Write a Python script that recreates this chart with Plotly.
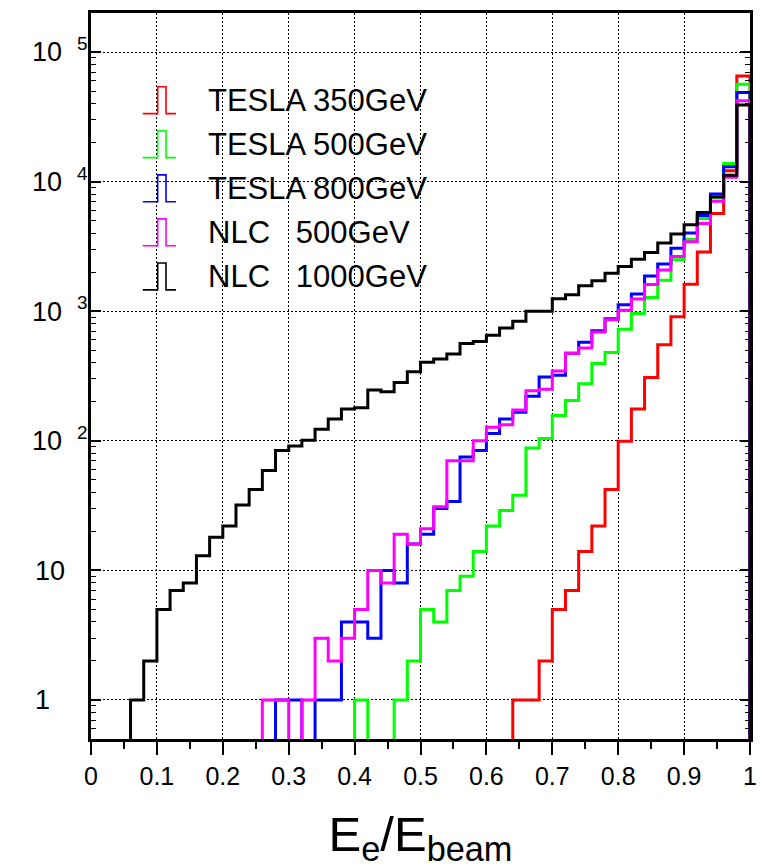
import numpy as np
import plotly.graph_objects as go

# Histogram binning: 50 bins of width 0.02 on E_e/E_beam in [0, 1]
bin_edges = np.linspace(0.0, 1.0, 51)

# Entries per bin (index 0 -> bin [0.00, 0.02), ..., index 49 -> [0.98, 1.00])
tesla_350 = [0] * 32 + [1, 1, 2, 5, 7, 14, 22, 42, 99, 176, 308, 552, 905,
                        1613, 2858, 5670, 12150, 65300]
tesla_500 = [0] * 20 + [1, 0, 0, 1, 2, 5, 4, 7, 9, 14, 22, 29, 38, 88, 104,
                        157, 205, 276, 395, 480, 725, 960, 1275, 1730, 2490,
                        3580, 5200, 7500, 13800, 56400]
tesla_800 = [0] * 14 + [1, 1, 0, 1, 1, 4, 4, 3, 10, 8, 16, 19, 30, 34, 75,
                        84, 114, 147, 166, 221, 310, 320, 474, 575, 706, 876,
                        1120, 1355, 1865, 2310, 3060, 4010, 5470, 8030, 13040,
                        48700]
nlc_500 = [0] * 13 + [1, 1, 0, 1, 3, 2, 3, 5, 10, 8, 19, 16, 21, 31, 70, 70,
                      100, 127, 133, 173, 243, 250, 345, 474, 521, 690, 860,
                      1018, 1240, 1610, 2080, 2640, 3440, 4750, 7050, 10800,
                      42000]
nlc_1000 = [0] * 3 + [1, 2, 5, 7, 8, 13, 18, 22, 32, 42, 59, 84, 91, 101, 123,
                      147, 176, 180, 247, 239, 282, 341, 403, 428, 467, 564,
                      585, 653, 743, 835, 1000, 1000, 1245, 1340, 1575, 1720,
                      1960, 2210, 2515, 2840, 3360, 3950, 4640, 5770, 7600,
                      11200, 39000]

series_names = ["TESLA 350GeV", "TESLA 500GeV", "TESLA 800GeV",
                "NLC\u00a0\u00a0\u00a0500GeV", "NLC\u00a0\u00a0\u00a01000GeV"]
series_values = [tesla_350, tesla_500, tesla_800, nlc_500, nlc_1000]
series_colors = ["#ff0000", "#00ff00", "#0000ff", "#ff00ff", "#000000"]

x_tick_vals = [0.0, 0.1, 0.2, 0.3, 0.4, 0.5, 0.6, 0.7, 0.8, 0.9, 1.0]
x_tick_text = ["0", "0.1", "0.2", "0.3", "0.4", "0.5", "0.6", "0.7", "0.8", "0.9", "1"]
y_tick_vals = [1, 10, 100, 1000, 10000, 100000]
y_tick_text = ["1" + "\u00a0" * 5, "10" + "\u00a0" * 3,
               "10\u00a0\u00a0<sup>2</sup>", "10\u00a0\u00a0<sup>3</sup>",
               "10\u00a0\u00a0<sup>4</sup>", "10\u00a0\u00a0<sup>5</sup>"]

Y_MIN, Y_MAX = 0.5, 2.0e5
FLOOR = 1e-3  # empty bins drop below the visible range

FONT = "Liberation Sans, Arial, Helvetica, sans-serif"

# Figure geometry (pixels)
W, H = 767, 868
ML, MR, MT, MB = 91, 11, 10, 129
PW, PH = W - ML - MR, H - MT - MB


def px_to_paper(px, py):
    return (px - ML) / PW, (H - MB - py) / PH


fig = go.Figure()

for name, vals, col in zip(series_names, series_values, series_colors):
    ys = [v if v > 0 else FLOOR for v in vals]
    xs = list(bin_edges[:-1]) + [bin_edges[-1], bin_edges[-1]]
    ys = ys + [ys[-1], FLOOR]
    fig.add_trace(go.Scatter(
        x=xs, y=ys, mode="lines", name=name,
        line=dict(color=col, width=3, shape="hv"),
        showlegend=False, hoverinfo="skip",
    ))

# Hand-drawn legend: a small pulse glyph per series followed by its label
row_top0, row_step, glyph_h = 84.0, 44.25, 27.0
for i, (name, col) in enumerate(zip(series_names, series_colors)):
    top = row_top0 + i * row_step
    bot = top + glyph_h
    pts = [(143.3, bot), (158.3, bot), (158.3, top), (166.7, top),
           (166.7, bot), (176.7, bot)]
    path = "M " + " L ".join("{:.5f},{:.5f}".format(*px_to_paper(px, py)) for px, py in pts)
    fig.add_shape(type="path", path=path, xref="paper", yref="paper",
                  line=dict(color=col, width=1.6))
    tx, ty = px_to_paper(207.0, (top + bot) / 2)
    fig.add_annotation(x=tx, y=ty, xref="paper", yref="paper", text=name,
                       showarrow=False, xanchor="left", yanchor="middle",
                       font=dict(family=FONT, size=31, color="black"))

minor_y = [k * 10.0 ** d for d in range(-1, 6) for k in range(2, 10)
           if Y_MIN < k * 10.0 ** d < Y_MAX]
minor_x = [0.05, 0.15, 0.25, 0.35, 0.45, 0.55, 0.65, 0.75, 0.85, 0.95]

fig.update_layout(
    width=W, height=H,
    margin=dict(l=ML, r=MR, t=MT, b=MB, pad=0),
    paper_bgcolor="white", plot_bgcolor="white",
    font=dict(family=FONT, color="black"),
    xaxis=dict(
        range=[0, 1], tickmode="array", tickvals=x_tick_vals, ticktext=x_tick_text,
        ticks="outside", ticklen=13, tickwidth=1.5, tickcolor="black",
        minor=dict(tickmode="array", tickvals=minor_x, ticks="outside",
                   ticklen=7, tickwidth=1.5, tickcolor="black", showgrid=False),
        showgrid=True, gridcolor="black", gridwidth=1, griddash="2px,2px",
        showline=True, linecolor="black", linewidth=3, mirror=True,
        zeroline=False, tickfont=dict(size=25, family=FONT),
        title=dict(text="E<sub>e</sub>/E<sub>beam</sub>",
                   font=dict(size=49, family=FONT), standoff=32),
    ),
    yaxis=dict(
        type="log", range=[np.log10(Y_MIN), np.log10(Y_MAX)],
        tickmode="array", tickvals=y_tick_vals, ticktext=y_tick_text,
        ticks="inside", ticklen=10, tickwidth=1.5, tickcolor="black",
        minor=dict(tickmode="array", tickvals=minor_y, ticks="inside",
                   ticklen=5, tickwidth=1.2, tickcolor="black", showgrid=False),
        showgrid=True, gridcolor="black", gridwidth=1, griddash="2px,2px",
        showline=True, linecolor="black", linewidth=3, mirror="ticks",
        zeroline=False, tickfont=dict(size=27, family=FONT),
        ticklabelstandoff=-5,
    ),
)

fig.write_html("out.html")
